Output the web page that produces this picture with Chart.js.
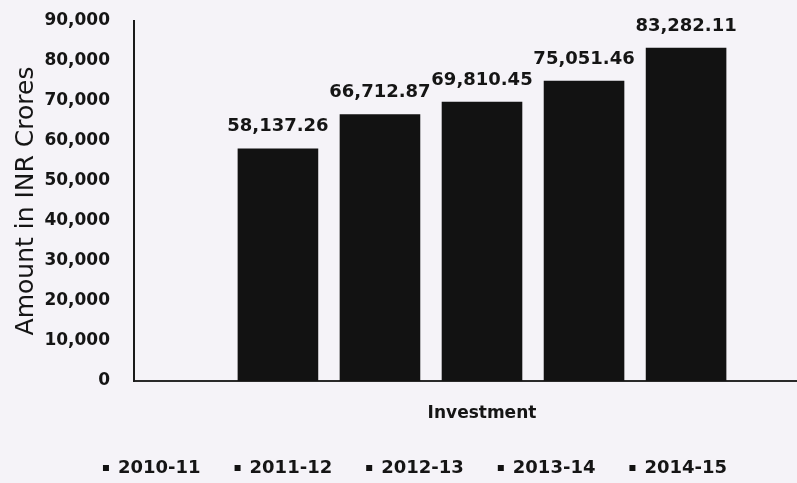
<!DOCTYPE html>
<html>
<head>
<meta charset="utf-8">
<script src="https://cdn.jsdelivr.net/npm/chart.js@4/dist/chart.umd.min.js"></script>
<style>
    html, body { margin: 0; padding: 0; background: #f5f3f8; overflow: hidden; }
    #wrap { width: 797px; height: 483px; overflow: hidden; }
</style>
</head>
<body>
<div id="wrap"><canvas id="investmentChart" width="830" height="483"></canvas></div>
<script>
"use strict";

// Investment per financial year (INR crores)
const CATEGORY = ['Investment'];
const YEARS = ['2010-11', '2011-12', '2012-13', '2013-14', '2014-15'];
const AMOUNTS = [58137.26, 66712.87, 69810.45, 75051.46, 83282.11];
const Y_TICKS = [0, 10000, 20000, 30000, 40000, 50000, 60000, 70000, 80000, 90000];

const BAR_COLOR = '#121212';
const TEXT_COLOR = '#151515';
const FONT = 'DejaVu Sans';

// Amount label above every bar
const barValueLabels = {
    id: 'barValueLabels',
    afterDatasetsDraw(chart) {
        const ctx = chart.ctx;
        ctx.save();
        ctx.font = `bold 18px "${ FONT }"`;
        ctx.fillStyle = TEXT_COLOR;
        ctx.textAlign = 'center';
        ctx.textBaseline = 'alphabetic';
        chart.data.datasets.forEach((ds, i) => {
            const bar = chart.getDatasetMeta(i).data[0];
            const text = ds.data[0].toLocaleString('en-US', { minimumFractionDigits: 2, maximumFractionDigits: 2 });
            ctx.fillText(text, bar.x, bar.y - 17);
        });
        ctx.restore();
    }
};

new Chart(document.getElementById('investmentChart').getContext('2d'), {
    type: 'bar',
    data: {
        labels: CATEGORY,
        datasets: YEARS.map((year, i) => ({
            label: year,
            data: [AMOUNTS[i]],
            backgroundColor: BAR_COLOR,
            borderWidth: 0,
            categoryPercentage: 0.733,
            barPercentage: 0.79,
        }))
    },
    options: {
        responsive: false,
        animation: false,
        layout: {
            padding: { top: 21, left: 0, right: 0, bottom: -4 }
        },
        scales: {
            x: {
                grid: { display: false, drawTicks: false },
                border: { display: true, color: '#2a2a2a', width: 2 },
                ticks: {
                    color: TEXT_COLOR,
                    padding: 22,
                    font: { family: FONT, size: 17, weight: 'bold' }
                },
                afterFit: scale => { scale.height = 44 }
            },
            y: {
                min: 0,
                max: 90000,
                afterBuildTicks: scale => { scale.ticks = Y_TICKS.map(value => ({ value })) },
                grid: { display: false, drawTicks: false },
                border: { display: true, color: '#1a1a1a', width: 2 },
                ticks: {
                    color: TEXT_COLOR,
                    padding: 24,
                    font: { family: FONT, size: 17, weight: 'bold' },
                    callback: value => value.toLocaleString('en-US')
                },
                title: {
                    display: true,
                    text: 'Amount in INR Crores',
                    color: TEXT_COLOR,
                    padding: { top: 11, bottom: 4 },
                    font: { family: FONT, size: 25 }
                },
                afterFit: scale => {
                    scale.width = 134;
                    // keep the tick padding from pushing the plot area down
                    scale.paddingTop = 0;
                    scale.paddingBottom = 0;
                }
            }
        },
        plugins: {
            legend: {
                position: 'bottom',
                labels: {
                    color: TEXT_COLOR,
                    boxWidth: 6,
                    boxHeight: 6,
                    padding: 34,
                    font: { family: FONT, size: 18, weight: 'bold' }
                }
            },
            tooltip: { enabled: false }
        }
    },
    plugins: [barValueLabels]
});
</script>
</body>
</html>
